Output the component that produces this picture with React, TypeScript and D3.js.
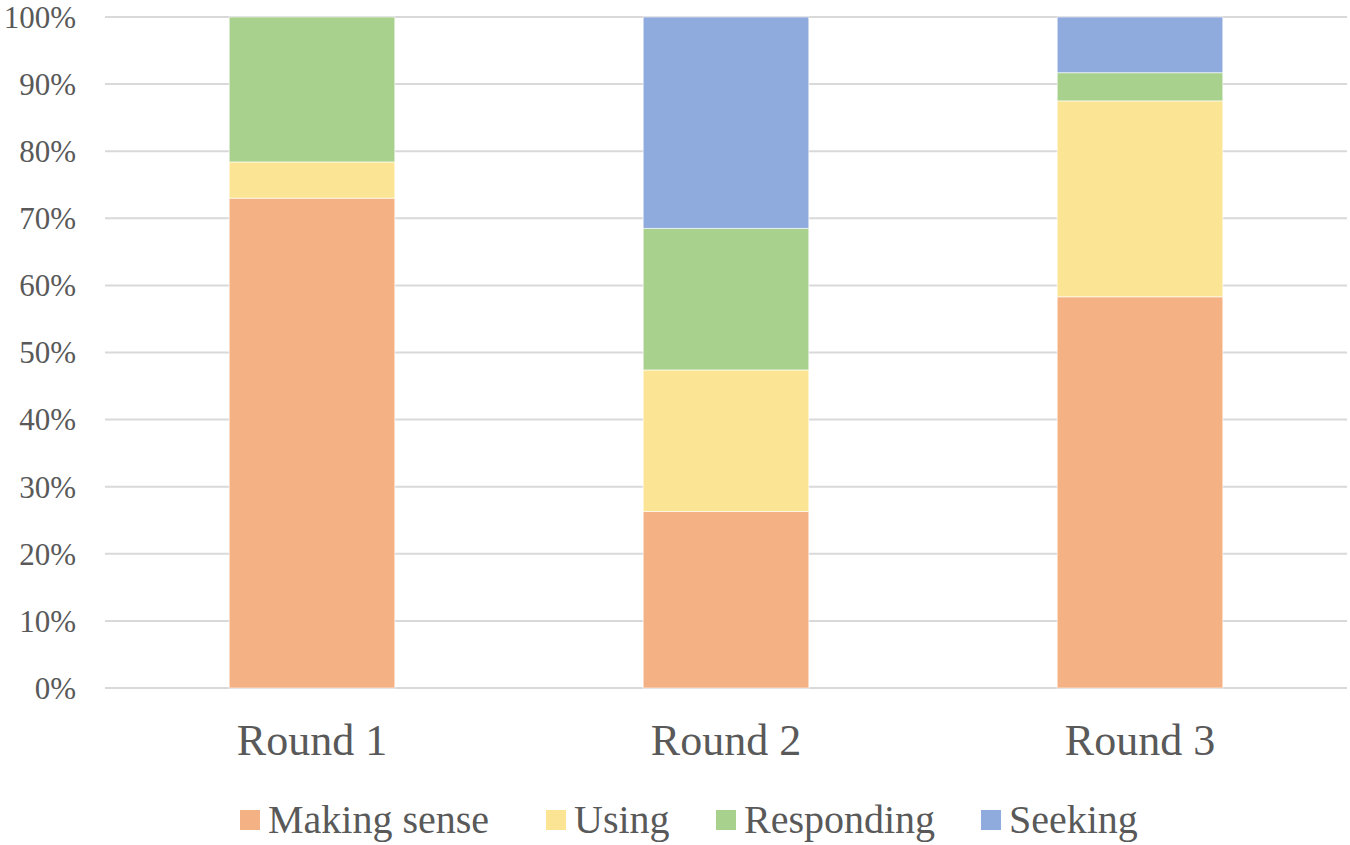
import { useEffect, useRef } from "react";
import * as d3 from "d3";

const rounds = ["Round 1", "Round 2", "Round 3"];
const seriesNames = ["Making sense", "Using", "Responding", "Seeking"];
const seriesColors = ["#F4B183", "#FBE595", "#A9D18E", "#8FAADC"];
// percentage share per round, read off the stacked columns
const makingSense = [73.0, 26.3, 58.3];
const using = [5.4, 21.1, 29.2];
const responding = [21.6, 21.1, 4.2];
const seeking = [0, 31.5, 8.3];
const yTicks = [0, 10, 20, 30, 40, 50, 60, 70, 80, 90, 100];

const W = 1350;
const H = 845;

const App = () => {
  const ref = useRef<SVGSVGElement>(null);

  useEffect(() => {
    if (!ref.current) return;
    const svg = d3.select(ref.current);
    svg.selectAll("*").remove();

    const left = 105;
    const right = 1347;
    const top = 17;
    const bottom = 688;
    const font = "Liberation Serif";
    const textColor = "#595959";

    const rows = rounds.map((r, i) => ({
      round: r,
      "Making sense": makingSense[i],
      Using: using[i],
      Responding: responding[i],
      Seeking: seeking[i],
    }));

    const x = d3.scaleBand().domain(rounds).range([left, right]).paddingInner(0.6).paddingOuter(0.3);
    const y = d3.scaleLinear().domain([0, 100]).range([bottom, top]);
    const color = d3.scaleOrdinal<string, string>().domain(seriesNames).range(seriesColors);

    // gridlines
    svg
      .append("g")
      .selectAll("line")
      .data(yTicks)
      .enter()
      .append("line")
      .attr("x1", left)
      .attr("x2", right)
      .attr("y1", (d) => y(d))
      .attr("y2", (d) => y(d))
      .attr("stroke", "#D9D9D9")
      .attr("stroke-width", 2);

    // y labels
    svg
      .append("g")
      .selectAll("text")
      .data(yTicks)
      .enter()
      .append("text")
      .attr("x", 76)
      .attr("y", (d) => y(d))
      .attr("dy", "0.35em")
      .attr("text-anchor", "end")
      .style("font-family", font)
      .attr("font-size", 31)
      .attr("fill", textColor)
      .text((d) => d + "%");

    const stack = d3.stack<any>().keys(seriesNames)(rows);

    svg
      .append("g")
      .selectAll("g")
      .data(stack)
      .enter()
      .append("g")
      .attr("fill", (d) => color(d.key))
      .selectAll("rect")
      .data((d) => d)
      .enter()
      .append("rect")
      .attr("x", (d) => x(d.data.round)!)
      .attr("width", x.bandwidth())
      .attr("y", (d) => y(d[1]))
      .attr("height", (d) => Math.max(0, y(d[0]) - y(d[1])))
      .attr("stroke", "#ffffff")
      .attr("stroke-opacity", 0.6)
      .attr("stroke-width", 1);

    // category labels
    svg
      .append("g")
      .selectAll("text")
      .data(rounds)
      .enter()
      .append("text")
      .attr("x", (d) => x(d)! + x.bandwidth() / 2)
      .attr("y", 755)
      .attr("text-anchor", "middle")
      .style("font-family", font)
      .attr("font-size", 44)
      .attr("fill", textColor)
      .text((d) => d);

    // legend
    const legendX = [240, 546, 716, 981];
    const lg = svg
      .append("g")
      .selectAll("g")
      .data(seriesNames)
      .enter()
      .append("g")
      .attr("transform", (_, i) => `translate(${legendX[i]},0)`);
    lg.append("rect")
      .attr("x", 0)
      .attr("y", 810)
      .attr("width", 20)
      .attr("height", 20)
      .attr("fill", (d) => color(d));
    lg.append("text")
      .attr("x", 28)
      .attr("y", 833)
      .style("font-family", font)
      .attr("font-size", 40)
      .attr("fill", textColor)
      .text((d) => d);
  }, []);

  return (
    <svg
      ref={ref}
      width={W}
      height={H}
      style={{ position: "absolute", left: 0, top: 0, background: "#fff" }}
    />
  );
};

export default App;
